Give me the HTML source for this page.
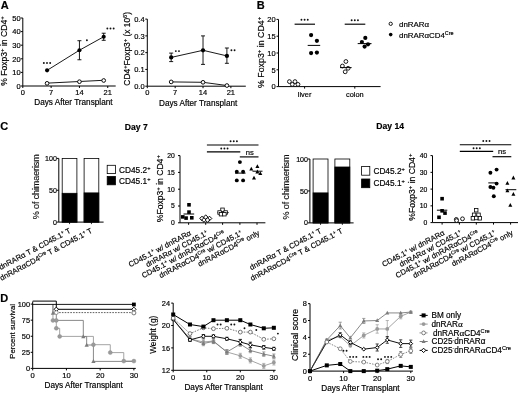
<!DOCTYPE html><html><head><meta charset="utf-8"><style>html,body{margin:0;padding:0;background:#fff;}svg{display:block;will-change:transform;}</style></head><body><svg width="520" height="393" viewBox="0 0 520 393" font-family="Liberation Sans"><style>text{stroke:#000;stroke-width:0.18px;}</style><rect width="520" height="393" fill="#fff"/><text x="0.70" y="8.90" font-size="11.0" text-anchor="start" fill="#000" font-weight="bold">A</text>
<line x1="22.80" y1="18.00" x2="22.80" y2="86.00" stroke="#000" stroke-width="1.0"/>
<line x1="20.80" y1="86.00" x2="22.80" y2="86.00" stroke="#000" stroke-width="1.0"/>
<text x="20.60" y="88.70" font-size="7.5" text-anchor="end" fill="#000">0</text>
<line x1="20.80" y1="72.40" x2="22.80" y2="72.40" stroke="#000" stroke-width="1.0"/>
<text x="20.60" y="75.10" font-size="7.5" text-anchor="end" fill="#000">10</text>
<line x1="20.80" y1="58.80" x2="22.80" y2="58.80" stroke="#000" stroke-width="1.0"/>
<text x="20.60" y="61.50" font-size="7.5" text-anchor="end" fill="#000">20</text>
<line x1="20.80" y1="45.20" x2="22.80" y2="45.20" stroke="#000" stroke-width="1.0"/>
<text x="20.60" y="47.90" font-size="7.5" text-anchor="end" fill="#000">30</text>
<line x1="20.80" y1="31.60" x2="22.80" y2="31.60" stroke="#000" stroke-width="1.0"/>
<text x="20.60" y="34.30" font-size="7.5" text-anchor="end" fill="#000">40</text>
<line x1="20.80" y1="18.00" x2="22.80" y2="18.00" stroke="#000" stroke-width="1.0"/>
<text x="20.60" y="20.70" font-size="7.5" text-anchor="end" fill="#000">50</text>
<line x1="22.80" y1="86.00" x2="115.70" y2="86.00" stroke="#000" stroke-width="1.0"/>
<line x1="22.80" y1="86.00" x2="22.80" y2="88.00" stroke="#000" stroke-width="1.0"/>
<text x="22.80" y="94.70" font-size="7.5" text-anchor="middle" fill="#000">0</text>
<line x1="51.11" y1="86.00" x2="51.11" y2="88.00" stroke="#000" stroke-width="1.0"/>
<text x="51.11" y="94.70" font-size="7.5" text-anchor="middle" fill="#000">7</text>
<line x1="79.43" y1="86.00" x2="79.43" y2="88.00" stroke="#000" stroke-width="1.0"/>
<text x="79.43" y="94.70" font-size="7.5" text-anchor="middle" fill="#000">14</text>
<line x1="107.74" y1="86.00" x2="107.74" y2="88.00" stroke="#000" stroke-width="1.0"/>
<text x="107.74" y="94.70" font-size="7.5" text-anchor="middle" fill="#000">21</text>
<text transform="translate(7.10,51.10) rotate(-90)" font-size="8.6" text-anchor="middle" fill="#000"><tspan font-size="8.6">% Foxp3</tspan><tspan dy="-3.01" font-size="5.85">+</tspan><tspan dy="3.01" font-size="8.6"> in CD4</tspan><tspan dy="-3.01" font-size="5.85">+</tspan></text>
<text x="73.40" y="105.20" font-size="8.2" text-anchor="middle" fill="#000">Days After Transplant</text>
<polyline points="47.07,83.14 79.43,81.51 103.70,80.29" fill="none" stroke="#000" stroke-width="0.9"/>
<circle cx="47.07" cy="83.34" r="1.85" fill="#fff" stroke="#000" stroke-width="0.95"/>
<circle cx="79.43" cy="81.71" r="1.85" fill="#fff" stroke="#000" stroke-width="0.95"/>
<circle cx="103.70" cy="80.49" r="1.85" fill="#fff" stroke="#000" stroke-width="0.95"/>
<polyline points="47.07,70.36 79.43,50.23 103.70,36.77" fill="none" stroke="#000" stroke-width="0.9"/>
<line x1="79.43" y1="40.71" x2="79.43" y2="59.75" stroke="#000" stroke-width="0.9"/>
<line x1="77.43" y1="40.71" x2="81.43" y2="40.71" stroke="#000" stroke-width="0.9"/>
<line x1="77.43" y1="59.75" x2="81.43" y2="59.75" stroke="#000" stroke-width="0.9"/>
<line x1="103.70" y1="33.23" x2="103.70" y2="40.30" stroke="#000" stroke-width="0.9"/>
<line x1="101.70" y1="33.23" x2="105.70" y2="33.23" stroke="#000" stroke-width="0.9"/>
<line x1="101.70" y1="40.30" x2="105.70" y2="40.30" stroke="#000" stroke-width="0.9"/>
<circle cx="47.07" cy="70.36" r="2.05" fill="#000"/>
<circle cx="79.43" cy="50.23" r="2.05" fill="#000"/>
<circle cx="103.70" cy="36.77" r="2.05" fill="#000"/>
<circle cx="43.85" cy="63.00" r="0.95" fill="#111"/>
<circle cx="47.00" cy="63.00" r="0.95" fill="#111"/>
<circle cx="50.15" cy="63.00" r="0.95" fill="#111"/>
<circle cx="86.90" cy="40.30" r="0.95" fill="#111"/>
<circle cx="107.35" cy="28.50" r="0.95" fill="#111"/>
<circle cx="110.50" cy="28.50" r="0.95" fill="#111"/>
<circle cx="113.65" cy="28.50" r="0.95" fill="#111"/>
<line x1="147.30" y1="19.10" x2="147.30" y2="86.20" stroke="#000" stroke-width="1.0"/>
<line x1="145.30" y1="86.20" x2="147.30" y2="86.20" stroke="#000" stroke-width="1.0"/>
<text x="144.60" y="88.90" font-size="7.5" text-anchor="end" fill="#000">0.0</text>
<line x1="145.30" y1="69.42" x2="147.30" y2="69.42" stroke="#000" stroke-width="1.0"/>
<text x="144.60" y="72.12" font-size="7.5" text-anchor="end" fill="#000">0.1</text>
<line x1="145.30" y1="52.65" x2="147.30" y2="52.65" stroke="#000" stroke-width="1.0"/>
<text x="144.60" y="55.35" font-size="7.5" text-anchor="end" fill="#000">0.2</text>
<line x1="145.30" y1="35.88" x2="147.30" y2="35.88" stroke="#000" stroke-width="1.0"/>
<text x="144.60" y="38.58" font-size="7.5" text-anchor="end" fill="#000">0.3</text>
<line x1="145.30" y1="19.10" x2="147.30" y2="19.10" stroke="#000" stroke-width="1.0"/>
<text x="144.60" y="21.80" font-size="7.5" text-anchor="end" fill="#000">0.4</text>
<line x1="147.30" y1="86.20" x2="245.80" y2="86.20" stroke="#000" stroke-width="1.0"/>
<line x1="147.30" y1="86.20" x2="147.30" y2="88.20" stroke="#000" stroke-width="1.0"/>
<text x="147.30" y="94.90" font-size="7.5" text-anchor="middle" fill="#000">0</text>
<line x1="175.16" y1="86.20" x2="175.16" y2="88.20" stroke="#000" stroke-width="1.0"/>
<text x="175.16" y="94.90" font-size="7.5" text-anchor="middle" fill="#000">7</text>
<line x1="203.02" y1="86.20" x2="203.02" y2="88.20" stroke="#000" stroke-width="1.0"/>
<text x="203.02" y="94.90" font-size="7.5" text-anchor="middle" fill="#000">14</text>
<line x1="230.88" y1="86.20" x2="230.88" y2="88.20" stroke="#000" stroke-width="1.0"/>
<text x="230.88" y="94.90" font-size="7.5" text-anchor="middle" fill="#000">21</text>
<text transform="translate(130.40,48.80) rotate(-90)" font-size="8.4" text-anchor="middle" fill="#000"><tspan font-size="8.4">CD4</tspan><tspan dy="-2.94" font-size="5.71">+</tspan><tspan dy="2.94" font-size="8.4">Foxp3</tspan><tspan dy="-2.94" font-size="5.71">+</tspan><tspan dy="2.94" font-size="8.4"> (x 10</tspan><tspan dy="-2.94" font-size="5.71">6</tspan><tspan dy="2.94" font-size="8.4">)</tspan></text>
<text x="198.20" y="105.60" font-size="8.2" text-anchor="middle" fill="#000">Days After Transplant</text>
<polyline points="171.18,81.91 203.02,82.31 226.90,85.53" fill="none" stroke="#000" stroke-width="0.9"/>
<circle cx="171.18" cy="81.91" r="1.85" fill="#fff" stroke="#000" stroke-width="0.95"/>
<circle cx="203.02" cy="82.31" r="1.85" fill="#fff" stroke="#000" stroke-width="0.95"/>
<circle cx="226.90" cy="85.53" r="1.85" fill="#fff" stroke="#000" stroke-width="0.95"/>
<polyline points="171.18,57.41 203.02,50.30 226.90,55.90" fill="none" stroke="#000" stroke-width="0.9"/>
<line x1="171.18" y1="53.10" x2="171.18" y2="61.60" stroke="#000" stroke-width="0.9"/>
<line x1="169.18" y1="53.10" x2="173.18" y2="53.10" stroke="#000" stroke-width="0.9"/>
<line x1="169.18" y1="61.60" x2="173.18" y2="61.60" stroke="#000" stroke-width="0.9"/>
<line x1="203.02" y1="35.90" x2="203.02" y2="64.40" stroke="#000" stroke-width="0.9"/>
<line x1="201.02" y1="35.90" x2="205.02" y2="35.90" stroke="#000" stroke-width="0.9"/>
<line x1="201.02" y1="64.40" x2="205.02" y2="64.40" stroke="#000" stroke-width="0.9"/>
<line x1="226.90" y1="48.00" x2="226.90" y2="63.30" stroke="#000" stroke-width="0.9"/>
<line x1="224.90" y1="48.00" x2="228.90" y2="48.00" stroke="#000" stroke-width="0.9"/>
<line x1="224.90" y1="63.30" x2="228.90" y2="63.30" stroke="#000" stroke-width="0.9"/>
<circle cx="171.18" cy="57.41" r="2.15" fill="#000"/>
<circle cx="203.02" cy="50.30" r="2.15" fill="#000"/>
<circle cx="226.90" cy="55.90" r="2.15" fill="#000"/>
<circle cx="175.83" cy="51.10" r="0.95" fill="#111"/>
<circle cx="178.98" cy="51.10" r="0.95" fill="#111"/>
<circle cx="231.43" cy="50.20" r="0.95" fill="#111"/>
<circle cx="234.58" cy="50.20" r="0.95" fill="#111"/>
<text x="256.80" y="8.90" font-size="11.0" text-anchor="start" fill="#000" font-weight="bold">B</text>
<line x1="278.50" y1="19.40" x2="278.50" y2="86.60" stroke="#000" stroke-width="1.0"/>
<line x1="276.50" y1="86.60" x2="278.50" y2="86.60" stroke="#000" stroke-width="1.0"/>
<text x="275.60" y="89.30" font-size="7.5" text-anchor="end" fill="#000">0</text>
<line x1="276.50" y1="69.80" x2="278.50" y2="69.80" stroke="#000" stroke-width="1.0"/>
<text x="275.60" y="72.50" font-size="7.5" text-anchor="end" fill="#000">5</text>
<line x1="276.50" y1="53.00" x2="278.50" y2="53.00" stroke="#000" stroke-width="1.0"/>
<text x="275.60" y="55.70" font-size="7.5" text-anchor="end" fill="#000">10</text>
<line x1="276.50" y1="36.20" x2="278.50" y2="36.20" stroke="#000" stroke-width="1.0"/>
<text x="275.60" y="38.90" font-size="7.5" text-anchor="end" fill="#000">15</text>
<line x1="276.50" y1="19.40" x2="278.50" y2="19.40" stroke="#000" stroke-width="1.0"/>
<text x="275.60" y="22.10" font-size="7.5" text-anchor="end" fill="#000">20</text>
<line x1="278.50" y1="86.60" x2="380.60" y2="86.60" stroke="#000" stroke-width="1.0"/>
<line x1="304.60" y1="86.60" x2="304.60" y2="88.60" stroke="#000" stroke-width="1.0"/>
<text x="304.60" y="97.10" font-size="7.38" text-anchor="middle" fill="#000">liver</text>
<line x1="354.80" y1="86.60" x2="354.80" y2="88.60" stroke="#000" stroke-width="1.0"/>
<text x="354.80" y="97.10" font-size="7.38" text-anchor="middle" fill="#000">colon</text>
<text transform="translate(263.60,52.40) rotate(-90)" font-size="8.8" text-anchor="middle" fill="#000"><tspan font-size="8.8">% Foxp3</tspan><tspan dy="-3.08" font-size="5.98">+</tspan><tspan dy="3.08" font-size="8.8"> in CD4</tspan><tspan dy="-3.08" font-size="5.98">+</tspan></text>
<circle cx="289.40" cy="81.60" r="1.9" fill="#fff" stroke="#000" stroke-width="0.9"/>
<circle cx="295.00" cy="81.60" r="1.9" fill="#fff" stroke="#000" stroke-width="0.9"/>
<circle cx="292.30" cy="84.40" r="1.9" fill="#fff" stroke="#000" stroke-width="0.9"/>
<circle cx="298.00" cy="84.40" r="1.9" fill="#fff" stroke="#000" stroke-width="0.9"/>
<circle cx="311.10" cy="35.10" r="2.1" fill="#000"/>
<circle cx="316.90" cy="40.80" r="2.1" fill="#000"/>
<circle cx="311.10" cy="53.10" r="2.1" fill="#000"/>
<circle cx="316.90" cy="52.60" r="2.1" fill="#000"/>
<line x1="307.70" y1="45.40" x2="320.20" y2="45.40" stroke="#000" stroke-width="1.0"/>
<line x1="294.60" y1="24.20" x2="315.00" y2="24.20" stroke="#000" stroke-width="1.15"/>
<circle cx="301.45" cy="19.70" r="0.95" fill="#111"/>
<circle cx="304.60" cy="19.70" r="0.95" fill="#111"/>
<circle cx="307.75" cy="19.70" r="0.95" fill="#111"/>
<circle cx="345.90" cy="61.50" r="1.9" fill="#fff" stroke="#000" stroke-width="0.9"/>
<circle cx="342.40" cy="66.00" r="1.9" fill="#fff" stroke="#000" stroke-width="0.9"/>
<circle cx="348.10" cy="68.30" r="1.9" fill="#fff" stroke="#000" stroke-width="0.9"/>
<circle cx="345.20" cy="71.80" r="1.9" fill="#fff" stroke="#000" stroke-width="0.9"/>
<line x1="340.00" y1="67.60" x2="351.60" y2="67.60" stroke="#000" stroke-width="1.0"/>
<circle cx="365.30" cy="37.90" r="2.1" fill="#000"/>
<circle cx="361.90" cy="42.00" r="2.1" fill="#000"/>
<circle cx="368.00" cy="44.30" r="2.1" fill="#000"/>
<circle cx="364.60" cy="46.60" r="2.1" fill="#000"/>
<line x1="357.70" y1="43.60" x2="371.50" y2="43.60" stroke="#000" stroke-width="1.0"/>
<line x1="344.70" y1="24.20" x2="365.30" y2="24.20" stroke="#000" stroke-width="1.15"/>
<circle cx="351.65" cy="20.30" r="0.95" fill="#111"/>
<circle cx="354.80" cy="20.30" r="0.95" fill="#111"/>
<circle cx="357.95" cy="20.30" r="0.95" fill="#111"/>
<circle cx="390.70" cy="23.80" r="1.65" fill="#fff" stroke="#000" stroke-width="0.9"/>
<circle cx="390.70" cy="34.60" r="1.8" fill="#000"/>
<text x="399.00" y="26.90" font-size="7.9" text-anchor="start" fill="#000">dnRARα</text>
<text x="399.00" y="37.50" font-size="7.9" text-anchor="start" fill="#000"><tspan font-size="7.9">dnRARαCD4</tspan><tspan dy="-2.77" font-size="5.37">Cre</tspan></text>
<text x="0.20" y="130.10" font-size="11.0" text-anchor="start" fill="#000" font-weight="bold">C</text>
<text x="124.80" y="130.00" font-size="8.6" text-anchor="start" fill="#000" font-weight="bold">Day 7</text>
<text x="376.30" y="129.00" font-size="8.6" text-anchor="start" fill="#000" font-weight="bold">Day 14</text>
<line x1="58.80" y1="158.40" x2="58.80" y2="222.10" stroke="#000" stroke-width="1.0"/>
<line x1="56.80" y1="222.10" x2="58.80" y2="222.10" stroke="#000" stroke-width="1.0"/>
<text x="56.90" y="224.66" font-size="7.1" text-anchor="end" fill="#000">0</text>
<line x1="56.80" y1="190.25" x2="58.80" y2="190.25" stroke="#000" stroke-width="1.0"/>
<text x="56.90" y="192.81" font-size="7.1" text-anchor="end" fill="#000">50</text>
<line x1="56.80" y1="158.40" x2="58.80" y2="158.40" stroke="#000" stroke-width="1.0"/>
<text x="56.90" y="160.96" font-size="7.1" text-anchor="end" fill="#000">100</text>
<line x1="58.80" y1="222.10" x2="103.60" y2="222.10" stroke="#000" stroke-width="1.0"/>
<rect x="62.20" y="158.40" width="14.70" height="63.70" fill="#fff" stroke="#000" stroke-width="0.8"/>
<rect x="62.20" y="193.30" width="14.70" height="28.80" fill="#000" stroke="#000" stroke-width="0.8"/>
<line x1="69.55" y1="222.10" x2="69.55" y2="224.10" stroke="#000" stroke-width="0.8"/>
<rect x="84.10" y="158.40" width="14.70" height="63.70" fill="#fff" stroke="#000" stroke-width="0.8"/>
<rect x="84.10" y="192.90" width="14.70" height="29.20" fill="#000" stroke="#000" stroke-width="0.8"/>
<line x1="91.45" y1="222.10" x2="91.45" y2="224.10" stroke="#000" stroke-width="0.8"/>
<text transform="translate(39.00,186.80) rotate(-90)" font-size="9.0" text-anchor="middle" fill="#1a1a1a" style="stroke-width:0.15px" textLength="65" lengthAdjust="spacing">% of chimaerism</text>
<rect x="107.20" y="165.30" width="8.2" height="8.3" fill="#fff" stroke="#000" stroke-width="0.8"/>
<rect x="107.20" y="176.50" width="8.2" height="8.3" fill="#000" stroke="#000" stroke-width="0.8"/>
<text x="119.00" y="172.90" font-size="8.3" text-anchor="start" fill="#000"><tspan font-size="8.3">CD45.2</tspan><tspan dy="-2.91" font-size="5.64">+</tspan></text>
<text x="119.00" y="183.90" font-size="8.3" text-anchor="start" fill="#000"><tspan font-size="8.3">CD45.1</tspan><tspan dy="-2.91" font-size="5.64">+</tspan></text>
<text transform="translate(71.40,232.30) rotate(-28)" font-size="7.6" text-anchor="end" fill="#000"><tspan font-size="7.6">dnRARα T &amp; CD45.1</tspan><tspan dy="-2.66" font-size="5.17">+</tspan><tspan dy="2.66" font-size="7.6"> T</tspan></text>
<text transform="translate(92.90,232.20) rotate(-28)" font-size="7.6" text-anchor="end" fill="#000"><tspan font-size="7.6">dnRARαCD4</tspan><tspan dy="-2.66" font-size="5.17">Cre</tspan><tspan dy="2.66" font-size="7.6"> T &amp; CD45.1</tspan><tspan dy="-2.66" font-size="5.17">+</tspan><tspan dy="2.66" font-size="7.6"> T</tspan></text>
<line x1="309.90" y1="159.00" x2="309.90" y2="222.90" stroke="#000" stroke-width="1.0"/>
<line x1="307.90" y1="222.90" x2="309.90" y2="222.90" stroke="#000" stroke-width="1.0"/>
<text x="308.00" y="225.46" font-size="7.1" text-anchor="end" fill="#000">0</text>
<line x1="307.90" y1="190.95" x2="309.90" y2="190.95" stroke="#000" stroke-width="1.0"/>
<text x="308.00" y="193.51" font-size="7.1" text-anchor="end" fill="#000">50</text>
<line x1="307.90" y1="159.00" x2="309.90" y2="159.00" stroke="#000" stroke-width="1.0"/>
<text x="308.00" y="161.56" font-size="7.1" text-anchor="end" fill="#000">100</text>
<line x1="309.90" y1="222.90" x2="353.60" y2="222.90" stroke="#000" stroke-width="1.0"/>
<rect x="313.10" y="159.00" width="14.90" height="63.90" fill="#fff" stroke="#000" stroke-width="0.8"/>
<rect x="313.10" y="192.90" width="14.90" height="30.00" fill="#000" stroke="#000" stroke-width="0.8"/>
<line x1="320.55" y1="222.90" x2="320.55" y2="224.90" stroke="#000" stroke-width="0.8"/>
<rect x="334.90" y="159.00" width="14.90" height="63.90" fill="#fff" stroke="#000" stroke-width="0.8"/>
<rect x="334.90" y="167.00" width="14.90" height="55.90" fill="#000" stroke="#000" stroke-width="0.8"/>
<line x1="342.35" y1="222.90" x2="342.35" y2="224.90" stroke="#000" stroke-width="0.8"/>
<text transform="translate(289.40,187.00) rotate(-90)" font-size="9.0" text-anchor="middle" fill="#1a1a1a" style="stroke-width:0.15px" textLength="65" lengthAdjust="spacing">% of chimaerism</text>
<rect x="361.60" y="166.50" width="8.2" height="8.7" fill="#fff" stroke="#000" stroke-width="0.8"/>
<rect x="361.60" y="179.00" width="8.2" height="8.7" fill="#000" stroke="#000" stroke-width="0.8"/>
<text x="373.40" y="174.10" font-size="8.3" text-anchor="start" fill="#000"><tspan font-size="8.3">CD45.2</tspan><tspan dy="-2.91" font-size="5.64">+</tspan></text>
<text x="373.40" y="186.40" font-size="8.3" text-anchor="start" fill="#000"><tspan font-size="8.3">CD45.1</tspan><tspan dy="-2.91" font-size="5.64">+</tspan></text>
<text transform="translate(322.00,232.60) rotate(-28)" font-size="7.6" text-anchor="end" fill="#000"><tspan font-size="7.6">dnRARα T &amp; CD45.1</tspan><tspan dy="-2.66" font-size="5.17">+</tspan><tspan dy="2.66" font-size="7.6"> T</tspan></text>
<text transform="translate(343.40,232.50) rotate(-28)" font-size="7.6" text-anchor="end" fill="#000"><tspan font-size="7.6">dnRARαCD4</tspan><tspan dy="-2.66" font-size="5.17">Cre</tspan><tspan dy="2.66" font-size="7.6"> T &amp; CD45.1</tspan><tspan dy="-2.66" font-size="5.17">+</tspan><tspan dy="2.66" font-size="7.6"> T</tspan></text>
<line x1="180.00" y1="155.60" x2="180.00" y2="222.80" stroke="#000" stroke-width="1.0"/>
<line x1="178.00" y1="222.80" x2="180.00" y2="222.80" stroke="#000" stroke-width="1.0"/>
<text x="174.70" y="225.25" font-size="6.8" text-anchor="end" fill="#000">0</text>
<line x1="178.00" y1="206.00" x2="180.00" y2="206.00" stroke="#000" stroke-width="1.0"/>
<text x="174.70" y="208.45" font-size="6.8" text-anchor="end" fill="#000">5</text>
<line x1="178.00" y1="189.20" x2="180.00" y2="189.20" stroke="#000" stroke-width="1.0"/>
<text x="174.70" y="191.65" font-size="6.8" text-anchor="end" fill="#000">10</text>
<line x1="178.00" y1="172.40" x2="180.00" y2="172.40" stroke="#000" stroke-width="1.0"/>
<text x="174.70" y="174.85" font-size="6.8" text-anchor="end" fill="#000">15</text>
<line x1="178.00" y1="155.60" x2="180.00" y2="155.60" stroke="#000" stroke-width="1.0"/>
<text x="174.70" y="158.05" font-size="6.8" text-anchor="end" fill="#000">20</text>
<line x1="180.00" y1="222.80" x2="265.40" y2="222.80" stroke="#000" stroke-width="1.0"/>
<line x1="188.60" y1="222.80" x2="188.60" y2="224.80" stroke="#000" stroke-width="1.0"/>
<line x1="205.70" y1="222.80" x2="205.70" y2="224.80" stroke="#000" stroke-width="1.0"/>
<line x1="222.60" y1="222.80" x2="222.60" y2="224.80" stroke="#000" stroke-width="1.0"/>
<line x1="239.90" y1="222.80" x2="239.90" y2="224.80" stroke="#000" stroke-width="1.0"/>
<line x1="257.00" y1="222.80" x2="257.00" y2="224.80" stroke="#000" stroke-width="1.0"/>
<text transform="translate(162.90,188.70) rotate(-90)" font-size="8.6" text-anchor="middle" fill="#000"><tspan font-size="8.6">%Foxp3</tspan><tspan dy="-3.01" font-size="5.85">+</tspan><tspan dy="3.01" font-size="8.6"> in CD4</tspan><tspan dy="-3.01" font-size="5.85">+</tspan></text>
<text transform="translate(191.60,234.70) rotate(-28)" font-size="7.6" text-anchor="end" fill="#000"><tspan font-size="7.6">CD45.1</tspan><tspan dy="-2.66" font-size="5.17">+</tspan><tspan dy="2.66" font-size="7.6"> w/ dnRARα</tspan></text>
<text transform="translate(208.70,234.70) rotate(-28)" font-size="7.6" text-anchor="end" fill="#000"><tspan font-size="7.6">dnRARα w/ CD45.1</tspan><tspan dy="-2.66" font-size="5.17">+</tspan></text>
<text transform="translate(225.60,234.70) rotate(-28)" font-size="7.6" text-anchor="end" fill="#000"><tspan font-size="7.6">CD45.1</tspan><tspan dy="-2.66" font-size="5.17">+</tspan><tspan dy="2.66" font-size="7.6"> w/ dnRARαCD4</tspan><tspan dy="-2.66" font-size="5.17">Cre</tspan></text>
<text transform="translate(242.90,234.70) rotate(-28)" font-size="7.6" text-anchor="end" fill="#000"><tspan font-size="7.6">dnRARαCD4</tspan><tspan dy="-2.66" font-size="5.17">Cre</tspan><tspan dy="2.66" font-size="7.6"> w/ CD45.1</tspan><tspan dy="-2.66" font-size="5.17">+</tspan></text>
<text transform="translate(260.00,234.70) rotate(-28)" font-size="7.6" text-anchor="end" fill="#000"><tspan font-size="7.6">dnRARαCD4</tspan><tspan dy="-2.66" font-size="5.17">Cre</tspan><tspan dy="2.66" font-size="7.6"> only</tspan></text>
<line x1="183.50" y1="214.00" x2="194.20" y2="214.00" stroke="#000" stroke-width="1.0"/>
<rect x="187.20" y="203.00" width="3.60" height="3.60" fill="#000"/>
<rect x="187.20" y="210.30" width="3.60" height="3.60" fill="#000"/>
<rect x="181.00" y="215.10" width="3.60" height="3.60" fill="#000"/>
<rect x="184.30" y="216.30" width="3.60" height="3.60" fill="#000"/>
<rect x="190.00" y="216.00" width="3.60" height="3.60" fill="#000"/>
<line x1="200.50" y1="218.60" x2="211.00" y2="218.60" stroke="#000" stroke-width="1.0"/>
<polygon points="202.00,216.20 204.30,218.50 202.00,220.80 199.70,218.50" fill="#fff" stroke="#000" stroke-width="1.0"/>
<polygon points="205.70,214.90 208.00,217.20 205.70,219.50 203.40,217.20" fill="#fff" stroke="#000" stroke-width="1.0"/>
<polygon points="209.50,216.20 211.80,218.50 209.50,220.80 207.20,218.50" fill="#fff" stroke="#000" stroke-width="1.0"/>
<polygon points="204.00,217.70 206.30,220.00 204.00,222.30 201.70,220.00" fill="#fff" stroke="#000" stroke-width="1.0"/>
<polygon points="207.50,217.70 209.80,220.00 207.50,222.30 205.20,220.00" fill="#fff" stroke="#000" stroke-width="1.0"/>
<line x1="217.60" y1="212.60" x2="228.60" y2="212.60" stroke="#000" stroke-width="1.0"/>
<rect x="220.75" y="208.05" width="3.50" height="3.50" fill="#fff" stroke="#000" stroke-width="0.8"/>
<rect x="217.85" y="210.75" width="3.50" height="3.50" fill="#fff" stroke="#000" stroke-width="0.8"/>
<rect x="223.85" y="210.75" width="3.50" height="3.50" fill="#fff" stroke="#000" stroke-width="0.8"/>
<rect x="219.25" y="212.45" width="3.50" height="3.50" fill="#fff" stroke="#000" stroke-width="0.8"/>
<rect x="222.65" y="212.45" width="3.50" height="3.50" fill="#fff" stroke="#000" stroke-width="0.8"/>
<line x1="235.00" y1="173.10" x2="245.60" y2="173.10" stroke="#000" stroke-width="1.0"/>
<circle cx="239.90" cy="162.10" r="1.95" fill="#000"/>
<circle cx="236.80" cy="171.80" r="1.95" fill="#000"/>
<circle cx="243.10" cy="171.80" r="1.95" fill="#000"/>
<circle cx="236.80" cy="180.40" r="1.95" fill="#000"/>
<circle cx="243.10" cy="180.40" r="1.95" fill="#000"/>
<line x1="252.50" y1="171.20" x2="262.50" y2="171.20" stroke="#000" stroke-width="1.0"/>
<polygon points="257.40,164.20 259.40,168.00 255.40,168.00" fill="#000"/>
<polygon points="251.30,166.70 253.30,170.50 249.30,170.50" fill="#000"/>
<polygon points="257.40,169.60 259.40,173.40 255.40,173.40" fill="#000"/>
<polygon points="260.30,171.30 262.30,175.10 258.30,175.10" fill="#000"/>
<polygon points="254.00,175.70 256.00,179.50 252.00,179.50" fill="#000"/>
<line x1="206.90" y1="145.00" x2="258.50" y2="145.00" stroke="#000" stroke-width="1.15"/>
<circle cx="230.60" cy="141.30" r="0.95" fill="#111"/>
<circle cx="233.75" cy="141.30" r="0.95" fill="#111"/>
<circle cx="236.90" cy="141.30" r="0.95" fill="#111"/>
<line x1="206.90" y1="151.90" x2="240.30" y2="151.90" stroke="#000" stroke-width="1.15"/>
<circle cx="221.25" cy="148.50" r="0.95" fill="#111"/>
<circle cx="224.40" cy="148.50" r="0.95" fill="#111"/>
<circle cx="227.55" cy="148.50" r="0.95" fill="#111"/>
<line x1="239.80" y1="156.90" x2="258.50" y2="156.90" stroke="#000" stroke-width="1.15"/>
<text x="249.75" y="154.80" font-size="7.6" text-anchor="middle" fill="#000">ns</text>
<line x1="432.50" y1="155.60" x2="432.50" y2="222.60" stroke="#000" stroke-width="1.0"/>
<line x1="430.50" y1="222.60" x2="432.50" y2="222.60" stroke="#000" stroke-width="1.0"/>
<text x="427.20" y="225.05" font-size="6.8" text-anchor="end" fill="#000">0</text>
<line x1="430.50" y1="205.85" x2="432.50" y2="205.85" stroke="#000" stroke-width="1.0"/>
<text x="427.20" y="208.30" font-size="6.8" text-anchor="end" fill="#000">10</text>
<line x1="430.50" y1="189.10" x2="432.50" y2="189.10" stroke="#000" stroke-width="1.0"/>
<text x="427.20" y="191.55" font-size="6.8" text-anchor="end" fill="#000">20</text>
<line x1="430.50" y1="172.35" x2="432.50" y2="172.35" stroke="#000" stroke-width="1.0"/>
<text x="427.20" y="174.80" font-size="6.8" text-anchor="end" fill="#000">30</text>
<line x1="430.50" y1="155.60" x2="432.50" y2="155.60" stroke="#000" stroke-width="1.0"/>
<text x="427.20" y="158.05" font-size="6.8" text-anchor="end" fill="#000">40</text>
<line x1="432.50" y1="222.60" x2="518.00" y2="222.60" stroke="#000" stroke-width="1.0"/>
<line x1="442.10" y1="222.60" x2="442.10" y2="224.60" stroke="#000" stroke-width="1.0"/>
<line x1="459.40" y1="222.60" x2="459.40" y2="224.60" stroke="#000" stroke-width="1.0"/>
<line x1="476.30" y1="222.60" x2="476.30" y2="224.60" stroke="#000" stroke-width="1.0"/>
<line x1="493.50" y1="222.60" x2="493.50" y2="224.60" stroke="#000" stroke-width="1.0"/>
<line x1="510.60" y1="222.60" x2="510.60" y2="224.60" stroke="#000" stroke-width="1.0"/>
<text transform="translate(415.30,187.20) rotate(-90)" font-size="8.6" text-anchor="middle" fill="#000"><tspan font-size="8.6">%Foxp3</tspan><tspan dy="-3.01" font-size="5.85">+</tspan><tspan dy="3.01" font-size="8.6"> in CD4</tspan><tspan dy="-3.01" font-size="5.85">+</tspan></text>
<text transform="translate(445.10,234.50) rotate(-28)" font-size="7.6" text-anchor="end" fill="#000"><tspan font-size="7.6">CD45.1</tspan><tspan dy="-2.66" font-size="5.17">+</tspan><tspan dy="2.66" font-size="7.6"> w/ dnRARα</tspan></text>
<text transform="translate(462.40,234.50) rotate(-28)" font-size="7.6" text-anchor="end" fill="#000"><tspan font-size="7.6">dnRARα w/ CD45.1</tspan><tspan dy="-2.66" font-size="5.17">+</tspan></text>
<text transform="translate(479.30,234.50) rotate(-28)" font-size="7.6" text-anchor="end" fill="#000"><tspan font-size="7.6">CD45.1</tspan><tspan dy="-2.66" font-size="5.17">+</tspan><tspan dy="2.66" font-size="7.6"> w/ dnRARαCD4</tspan><tspan dy="-2.66" font-size="5.17">Cre</tspan></text>
<text transform="translate(496.50,234.50) rotate(-28)" font-size="7.6" text-anchor="end" fill="#000"><tspan font-size="7.6">dnRARαCD4</tspan><tspan dy="-2.66" font-size="5.17">Cre</tspan><tspan dy="2.66" font-size="7.6"> w/ CD45.1</tspan><tspan dy="-2.66" font-size="5.17">+</tspan></text>
<text transform="translate(513.60,234.50) rotate(-28)" font-size="7.6" text-anchor="end" fill="#000"><tspan font-size="7.6">dnRARαCD4</tspan><tspan dy="-2.66" font-size="5.17">Cre</tspan><tspan dy="2.66" font-size="7.6"> only</tspan></text>
<line x1="436.90" y1="210.20" x2="447.30" y2="210.20" stroke="#000" stroke-width="1.0"/>
<rect x="440.30" y="196.90" width="3.60" height="3.60" fill="#000"/>
<rect x="440.30" y="209.00" width="3.60" height="3.60" fill="#000"/>
<rect x="443.20" y="211.30" width="3.60" height="3.60" fill="#000"/>
<rect x="437.20" y="215.50" width="3.60" height="3.60" fill="#000"/>
<circle cx="456.30" cy="219.40" r="1.9" fill="#fff" stroke="#000" stroke-width="0.9"/>
<circle cx="456.60" cy="220.60" r="1.9" fill="#fff" stroke="#000" stroke-width="0.9"/>
<circle cx="462.50" cy="218.80" r="1.9" fill="#fff" stroke="#000" stroke-width="0.9"/>
<rect x="474.45" y="208.45" width="3.50" height="3.50" fill="#fff" stroke="#000" stroke-width="0.8"/>
<rect x="472.35" y="213.05" width="3.50" height="3.50" fill="#fff" stroke="#000" stroke-width="0.8"/>
<rect x="476.75" y="213.05" width="3.50" height="3.50" fill="#fff" stroke="#000" stroke-width="0.8"/>
<rect x="471.15" y="216.55" width="3.50" height="3.50" fill="#fff" stroke="#000" stroke-width="0.8"/>
<rect x="478.05" y="216.55" width="3.50" height="3.50" fill="#fff" stroke="#000" stroke-width="0.8"/>
<rect x="474.45" y="216.25" width="3.50" height="3.50" fill="#fff" stroke="#000" stroke-width="0.8"/>
<line x1="488.30" y1="182.90" x2="497.80" y2="182.90" stroke="#000" stroke-width="1.0"/>
<circle cx="490.40" cy="172.70" r="1.95" fill="#000"/>
<circle cx="496.60" cy="169.60" r="1.95" fill="#000"/>
<circle cx="496.60" cy="183.60" r="1.95" fill="#000"/>
<circle cx="490.40" cy="187.00" r="1.95" fill="#000"/>
<circle cx="493.40" cy="187.80" r="1.95" fill="#000"/>
<circle cx="493.80" cy="196.30" r="1.95" fill="#000"/>
<line x1="505.50" y1="189.70" x2="516.30" y2="189.70" stroke="#000" stroke-width="1.0"/>
<polygon points="513.40,175.60 515.40,179.40 511.40,179.40" fill="#000"/>
<polygon points="507.40,181.00 509.40,184.80 505.40,184.80" fill="#000"/>
<polygon points="507.40,188.40 509.40,192.20 505.40,192.20" fill="#000"/>
<polygon points="513.40,191.90 515.40,195.70 511.40,195.70" fill="#000"/>
<polygon points="510.30,203.00 512.30,206.80 508.30,206.80" fill="#000"/>
<line x1="459.80" y1="144.70" x2="511.30" y2="144.70" stroke="#000" stroke-width="1.15"/>
<circle cx="483.25" cy="141.00" r="0.95" fill="#111"/>
<circle cx="486.40" cy="141.00" r="0.95" fill="#111"/>
<circle cx="489.55" cy="141.00" r="0.95" fill="#111"/>
<line x1="459.80" y1="151.40" x2="493.20" y2="151.40" stroke="#000" stroke-width="1.15"/>
<circle cx="473.55" cy="148.30" r="0.95" fill="#111"/>
<circle cx="476.70" cy="148.30" r="0.95" fill="#111"/>
<circle cx="479.85" cy="148.30" r="0.95" fill="#111"/>
<line x1="492.50" y1="156.70" x2="511.30" y2="156.70" stroke="#000" stroke-width="1.15"/>
<text x="502.10" y="154.40" font-size="7.6" text-anchor="middle" fill="#000">ns</text>
<text x="0.20" y="302.40" font-size="11.0" text-anchor="start" fill="#000" font-weight="bold">D</text>
<line x1="32.70" y1="301.50" x2="32.70" y2="368.40" stroke="#000" stroke-width="1.0"/>
<line x1="30.70" y1="368.40" x2="32.70" y2="368.40" stroke="#000" stroke-width="1.0"/>
<text x="30.00" y="371.06" font-size="7.4" text-anchor="end" fill="#000">0</text>
<line x1="30.70" y1="352.32" x2="32.70" y2="352.32" stroke="#000" stroke-width="1.0"/>
<text x="30.00" y="354.99" font-size="7.4" text-anchor="end" fill="#000">25</text>
<line x1="30.70" y1="336.25" x2="32.70" y2="336.25" stroke="#000" stroke-width="1.0"/>
<text x="30.00" y="338.91" font-size="7.4" text-anchor="end" fill="#000">50</text>
<line x1="30.70" y1="320.17" x2="32.70" y2="320.17" stroke="#000" stroke-width="1.0"/>
<text x="30.00" y="322.84" font-size="7.4" text-anchor="end" fill="#000">75</text>
<line x1="30.70" y1="304.10" x2="32.70" y2="304.10" stroke="#000" stroke-width="1.0"/>
<text x="30.00" y="306.76" font-size="7.4" text-anchor="end" fill="#000">100</text>
<line x1="32.70" y1="368.40" x2="135.80" y2="368.40" stroke="#000" stroke-width="1.0"/>
<line x1="32.70" y1="368.40" x2="32.70" y2="370.40" stroke="#000" stroke-width="1.0"/>
<text x="32.70" y="378.40" font-size="7.6" text-anchor="middle" fill="#000">0</text>
<line x1="66.43" y1="368.40" x2="66.43" y2="370.40" stroke="#000" stroke-width="1.0"/>
<text x="66.43" y="378.40" font-size="7.6" text-anchor="middle" fill="#000">10</text>
<line x1="100.16" y1="368.40" x2="100.16" y2="370.40" stroke="#000" stroke-width="1.0"/>
<text x="100.16" y="378.40" font-size="7.6" text-anchor="middle" fill="#000">20</text>
<line x1="133.89" y1="368.40" x2="133.89" y2="370.40" stroke="#000" stroke-width="1.0"/>
<text x="133.89" y="378.40" font-size="7.6" text-anchor="middle" fill="#000">30</text>
<text transform="translate(15.30,331.40) rotate(-90)" font-size="7.7" text-anchor="middle" fill="#000">Percent survival</text>
<text x="83.70" y="388.30" font-size="8.2" text-anchor="middle" fill="#000">Days After Transplant</text>
<polyline points="52.94,304.40 52.94,320.40 56.31,320.40 56.31,328.30 59.68,328.30 59.68,336.40 93.41,336.40 93.41,344.70 110.28,344.70 110.28,352.60 123.77,352.60 123.77,361.10 133.89,361.10" fill="none" stroke="#9a9a9a" stroke-width="0.9"/>
<polyline points="52.94,304.40 52.94,313.00 56.31,313.00 56.31,320.40 83.30,320.40 83.30,336.60 86.67,336.60 86.67,345.00 93.41,345.00 93.41,361.40 133.89,361.40" fill="none" stroke="#7c7c7c" stroke-width="0.9"/>
<circle cx="52.94" cy="320.40" r="2.0" fill="#9a9a9a" stroke="#8a8a8a" stroke-width="0.4"/>
<circle cx="56.31" cy="328.30" r="2.0" fill="#9a9a9a" stroke="#8a8a8a" stroke-width="0.4"/>
<circle cx="59.68" cy="336.40" r="2.0" fill="#9a9a9a" stroke="#8a8a8a" stroke-width="0.4"/>
<circle cx="93.41" cy="344.70" r="2.0" fill="#9a9a9a" stroke="#8a8a8a" stroke-width="0.4"/>
<circle cx="110.28" cy="352.60" r="2.0" fill="#9a9a9a" stroke="#8a8a8a" stroke-width="0.4"/>
<circle cx="123.77" cy="361.10" r="2.0" fill="#9a9a9a" stroke="#8a8a8a" stroke-width="0.4"/>
<circle cx="133.89" cy="361.10" r="2.0" fill="#9a9a9a" stroke="#8a8a8a" stroke-width="0.4"/>
<circle cx="56.31" cy="320.40" r="2.0" fill="#9a9a9a" stroke="#8a8a8a" stroke-width="0.4"/>
<polygon points="52.94,310.69 55.04,314.68 50.84,314.68" fill="#7c7c7c"/>
<polygon points="83.30,334.29 85.40,338.28 81.20,338.28" fill="#7c7c7c"/>
<polygon points="86.67,342.69 88.77,346.68 84.57,346.68" fill="#7c7c7c"/>
<polygon points="93.41,359.09 95.51,363.08 91.31,363.08" fill="#7c7c7c"/>
<polyline points="32.70,304.40 133.89,304.40" fill="none" stroke="#000" stroke-width="0.9"/>
<polyline points="32.70,301.10 56.31,301.10 56.31,309.30 133.89,309.30" fill="none" stroke="#000" stroke-width="1.0"/>
<polyline points="56.31,309.30 56.31,312.60" fill="none" stroke="#000" stroke-width="0.8"/>
<line x1="56.31" y1="312.60" x2="133.89" y2="312.60" stroke="#333" stroke-width="0.8" stroke-dasharray="1.6,1.2"/>
<rect x="131.99" y="302.60" width="3.80" height="3.80" fill="#000"/>
<polygon points="133.89,307.10 136.09,309.30 133.89,311.50 131.69,309.30" fill="#fff" stroke="#000" stroke-width="0.9"/>
<circle cx="133.89" cy="312.90" r="2.0" fill="#fff" stroke="#555" stroke-width="0.8"/>
<polygon points="56.31,307.10 58.51,309.30 56.31,311.50 54.11,309.30" fill="#fff" stroke="#000" stroke-width="1.0"/>
<circle cx="56.31" cy="312.60" r="1.9" fill="#fff" stroke="#777" stroke-width="0.8"/>
<line x1="173.20" y1="303.10" x2="173.20" y2="370.30" stroke="#000" stroke-width="1.0"/>
<line x1="171.20" y1="370.30" x2="173.20" y2="370.30" stroke="#000" stroke-width="1.0"/>
<text x="170.00" y="372.96" font-size="7.4" text-anchor="end" fill="#000">12</text>
<line x1="171.20" y1="347.90" x2="173.20" y2="347.90" stroke="#000" stroke-width="1.0"/>
<text x="170.00" y="350.56" font-size="7.4" text-anchor="end" fill="#000">16</text>
<line x1="171.20" y1="325.50" x2="173.20" y2="325.50" stroke="#000" stroke-width="1.0"/>
<text x="170.00" y="328.16" font-size="7.4" text-anchor="end" fill="#000">20</text>
<line x1="171.20" y1="303.10" x2="173.20" y2="303.10" stroke="#000" stroke-width="1.0"/>
<text x="170.00" y="305.76" font-size="7.4" text-anchor="end" fill="#000">24</text>
<line x1="173.20" y1="370.30" x2="275.60" y2="370.30" stroke="#000" stroke-width="1.0"/>
<line x1="173.20" y1="370.30" x2="173.20" y2="372.30" stroke="#000" stroke-width="1.0"/>
<text x="173.20" y="380.30" font-size="7.6" text-anchor="middle" fill="#000">0</text>
<line x1="206.75" y1="370.30" x2="206.75" y2="372.30" stroke="#000" stroke-width="1.0"/>
<text x="206.75" y="380.30" font-size="7.6" text-anchor="middle" fill="#000">10</text>
<line x1="240.30" y1="370.30" x2="240.30" y2="372.30" stroke="#000" stroke-width="1.0"/>
<text x="240.30" y="380.30" font-size="7.6" text-anchor="middle" fill="#000">20</text>
<line x1="273.85" y1="370.30" x2="273.85" y2="372.30" stroke="#000" stroke-width="1.0"/>
<text x="273.85" y="380.30" font-size="7.6" text-anchor="middle" fill="#000">30</text>
<text transform="translate(156.20,334.80) rotate(-90)" font-size="8.3" text-anchor="middle" fill="#000">Weight (g)</text>
<text x="223.60" y="389.50" font-size="8.2" text-anchor="middle" fill="#000">Days After Transplant</text>
<polyline points="173.20,319.40 189.97,338.80 203.39,342.00 213.46,341.00 226.88,352.00 240.30,355.80 250.37,360.40 263.78,365.90 273.85,362.50" fill="none" stroke="#9a9a9a" stroke-width="0.9"/>
<polyline points="173.20,319.40 189.97,338.80 203.39,343.50 213.46,341.40 226.88,352.00 240.30,344.10 250.37,350.50 263.78,354.10 273.85,356.20" fill="none" stroke="#7c7c7c" stroke-width="0.9"/>
<line x1="189.97" y1="336.30" x2="189.97" y2="341.30" stroke="#9a9a9a" stroke-width="0.7"/>
<line x1="188.38" y1="336.30" x2="191.57" y2="336.30" stroke="#9a9a9a" stroke-width="0.7"/>
<line x1="188.38" y1="341.30" x2="191.57" y2="341.30" stroke="#9a9a9a" stroke-width="0.7"/>
<line x1="203.39" y1="339.50" x2="203.39" y2="344.50" stroke="#9a9a9a" stroke-width="0.7"/>
<line x1="201.79" y1="339.50" x2="204.99" y2="339.50" stroke="#9a9a9a" stroke-width="0.7"/>
<line x1="201.79" y1="344.50" x2="204.99" y2="344.50" stroke="#9a9a9a" stroke-width="0.7"/>
<line x1="213.46" y1="338.50" x2="213.46" y2="343.50" stroke="#9a9a9a" stroke-width="0.7"/>
<line x1="211.86" y1="338.50" x2="215.06" y2="338.50" stroke="#9a9a9a" stroke-width="0.7"/>
<line x1="211.86" y1="343.50" x2="215.06" y2="343.50" stroke="#9a9a9a" stroke-width="0.7"/>
<line x1="226.88" y1="349.50" x2="226.88" y2="354.50" stroke="#9a9a9a" stroke-width="0.7"/>
<line x1="225.28" y1="349.50" x2="228.48" y2="349.50" stroke="#9a9a9a" stroke-width="0.7"/>
<line x1="225.28" y1="354.50" x2="228.48" y2="354.50" stroke="#9a9a9a" stroke-width="0.7"/>
<line x1="240.30" y1="353.30" x2="240.30" y2="358.30" stroke="#9a9a9a" stroke-width="0.7"/>
<line x1="238.70" y1="353.30" x2="241.90" y2="353.30" stroke="#9a9a9a" stroke-width="0.7"/>
<line x1="238.70" y1="358.30" x2="241.90" y2="358.30" stroke="#9a9a9a" stroke-width="0.7"/>
<line x1="250.37" y1="357.90" x2="250.37" y2="362.90" stroke="#9a9a9a" stroke-width="0.7"/>
<line x1="248.77" y1="357.90" x2="251.97" y2="357.90" stroke="#9a9a9a" stroke-width="0.7"/>
<line x1="248.77" y1="362.90" x2="251.97" y2="362.90" stroke="#9a9a9a" stroke-width="0.7"/>
<line x1="263.78" y1="363.40" x2="263.78" y2="368.40" stroke="#9a9a9a" stroke-width="0.7"/>
<line x1="262.18" y1="363.40" x2="265.38" y2="363.40" stroke="#9a9a9a" stroke-width="0.7"/>
<line x1="262.18" y1="368.40" x2="265.38" y2="368.40" stroke="#9a9a9a" stroke-width="0.7"/>
<line x1="273.85" y1="360.00" x2="273.85" y2="365.00" stroke="#9a9a9a" stroke-width="0.7"/>
<line x1="272.25" y1="360.00" x2="275.45" y2="360.00" stroke="#9a9a9a" stroke-width="0.7"/>
<line x1="272.25" y1="365.00" x2="275.45" y2="365.00" stroke="#9a9a9a" stroke-width="0.7"/>
<line x1="189.97" y1="336.60" x2="189.97" y2="341.00" stroke="#7c7c7c" stroke-width="0.7"/>
<line x1="188.38" y1="336.60" x2="191.57" y2="336.60" stroke="#7c7c7c" stroke-width="0.7"/>
<line x1="188.38" y1="341.00" x2="191.57" y2="341.00" stroke="#7c7c7c" stroke-width="0.7"/>
<line x1="203.39" y1="341.30" x2="203.39" y2="345.70" stroke="#7c7c7c" stroke-width="0.7"/>
<line x1="201.79" y1="341.30" x2="204.99" y2="341.30" stroke="#7c7c7c" stroke-width="0.7"/>
<line x1="201.79" y1="345.70" x2="204.99" y2="345.70" stroke="#7c7c7c" stroke-width="0.7"/>
<line x1="213.46" y1="339.20" x2="213.46" y2="343.60" stroke="#7c7c7c" stroke-width="0.7"/>
<line x1="211.86" y1="339.20" x2="215.06" y2="339.20" stroke="#7c7c7c" stroke-width="0.7"/>
<line x1="211.86" y1="343.60" x2="215.06" y2="343.60" stroke="#7c7c7c" stroke-width="0.7"/>
<line x1="226.88" y1="349.80" x2="226.88" y2="354.20" stroke="#7c7c7c" stroke-width="0.7"/>
<line x1="225.28" y1="349.80" x2="228.48" y2="349.80" stroke="#7c7c7c" stroke-width="0.7"/>
<line x1="225.28" y1="354.20" x2="228.48" y2="354.20" stroke="#7c7c7c" stroke-width="0.7"/>
<line x1="240.30" y1="341.90" x2="240.30" y2="346.30" stroke="#7c7c7c" stroke-width="0.7"/>
<line x1="238.70" y1="341.90" x2="241.90" y2="341.90" stroke="#7c7c7c" stroke-width="0.7"/>
<line x1="238.70" y1="346.30" x2="241.90" y2="346.30" stroke="#7c7c7c" stroke-width="0.7"/>
<line x1="250.37" y1="348.30" x2="250.37" y2="352.70" stroke="#7c7c7c" stroke-width="0.7"/>
<line x1="248.77" y1="348.30" x2="251.97" y2="348.30" stroke="#7c7c7c" stroke-width="0.7"/>
<line x1="248.77" y1="352.70" x2="251.97" y2="352.70" stroke="#7c7c7c" stroke-width="0.7"/>
<line x1="263.78" y1="351.90" x2="263.78" y2="356.30" stroke="#7c7c7c" stroke-width="0.7"/>
<line x1="262.18" y1="351.90" x2="265.38" y2="351.90" stroke="#7c7c7c" stroke-width="0.7"/>
<line x1="262.18" y1="356.30" x2="265.38" y2="356.30" stroke="#7c7c7c" stroke-width="0.7"/>
<line x1="273.85" y1="354.00" x2="273.85" y2="358.40" stroke="#7c7c7c" stroke-width="0.7"/>
<line x1="272.25" y1="354.00" x2="275.45" y2="354.00" stroke="#7c7c7c" stroke-width="0.7"/>
<line x1="272.25" y1="358.40" x2="275.45" y2="358.40" stroke="#7c7c7c" stroke-width="0.7"/>
<circle cx="173.20" cy="319.40" r="1.9" fill="#9a9a9a"/>
<circle cx="189.97" cy="338.80" r="1.9" fill="#9a9a9a"/>
<circle cx="203.39" cy="342.00" r="1.9" fill="#9a9a9a"/>
<circle cx="213.46" cy="341.00" r="1.9" fill="#9a9a9a"/>
<circle cx="226.88" cy="352.00" r="1.9" fill="#9a9a9a"/>
<circle cx="240.30" cy="355.80" r="1.9" fill="#9a9a9a"/>
<circle cx="250.37" cy="360.40" r="1.9" fill="#9a9a9a"/>
<circle cx="263.78" cy="365.90" r="1.9" fill="#9a9a9a"/>
<circle cx="273.85" cy="362.50" r="1.9" fill="#9a9a9a"/>
<polygon points="173.20,317.20 175.20,321.00 171.20,321.00" fill="#7c7c7c"/>
<polygon points="189.97,336.60 191.97,340.40 187.97,340.40" fill="#7c7c7c"/>
<polygon points="203.39,341.30 205.39,345.10 201.39,345.10" fill="#7c7c7c"/>
<polygon points="213.46,339.20 215.46,343.00 211.46,343.00" fill="#7c7c7c"/>
<polygon points="226.88,349.80 228.88,353.60 224.88,353.60" fill="#7c7c7c"/>
<polygon points="240.30,341.90 242.30,345.70 238.30,345.70" fill="#7c7c7c"/>
<polygon points="250.37,348.30 252.37,352.10 248.37,352.10" fill="#7c7c7c"/>
<polygon points="263.78,351.90 265.78,355.70 261.78,355.70" fill="#7c7c7c"/>
<polygon points="273.85,354.00 275.85,357.80 271.85,357.80" fill="#7c7c7c"/>
<polyline points="173.20,319.40 189.97,339.90 203.39,336.30 213.46,336.30 226.88,338.80 240.30,342.00 250.37,344.80 263.78,347.30 273.85,348.80" fill="none" stroke="#111" stroke-width="1.0"/>
<line x1="189.97" y1="338.40" x2="189.97" y2="341.40" stroke="#000" stroke-width="0.8"/>
<line x1="188.28" y1="338.40" x2="191.67" y2="338.40" stroke="#000" stroke-width="0.8"/>
<line x1="188.28" y1="341.40" x2="191.67" y2="341.40" stroke="#000" stroke-width="0.8"/>
<line x1="203.39" y1="334.50" x2="203.39" y2="338.10" stroke="#000" stroke-width="0.8"/>
<line x1="201.69" y1="334.50" x2="205.09" y2="334.50" stroke="#000" stroke-width="0.8"/>
<line x1="201.69" y1="338.10" x2="205.09" y2="338.10" stroke="#000" stroke-width="0.8"/>
<line x1="213.46" y1="334.80" x2="213.46" y2="337.80" stroke="#000" stroke-width="0.8"/>
<line x1="211.76" y1="334.80" x2="215.16" y2="334.80" stroke="#000" stroke-width="0.8"/>
<line x1="211.76" y1="337.80" x2="215.16" y2="337.80" stroke="#000" stroke-width="0.8"/>
<line x1="226.88" y1="337.30" x2="226.88" y2="340.30" stroke="#000" stroke-width="0.8"/>
<line x1="225.18" y1="337.30" x2="228.58" y2="337.30" stroke="#000" stroke-width="0.8"/>
<line x1="225.18" y1="340.30" x2="228.58" y2="340.30" stroke="#000" stroke-width="0.8"/>
<line x1="240.30" y1="339.40" x2="240.30" y2="344.60" stroke="#000" stroke-width="0.8"/>
<line x1="238.60" y1="339.40" x2="242.00" y2="339.40" stroke="#000" stroke-width="0.8"/>
<line x1="238.60" y1="344.60" x2="242.00" y2="344.60" stroke="#000" stroke-width="0.8"/>
<line x1="250.37" y1="342.20" x2="250.37" y2="347.40" stroke="#000" stroke-width="0.8"/>
<line x1="248.67" y1="342.20" x2="252.06" y2="342.20" stroke="#000" stroke-width="0.8"/>
<line x1="248.67" y1="347.40" x2="252.06" y2="347.40" stroke="#000" stroke-width="0.8"/>
<line x1="263.78" y1="345.50" x2="263.78" y2="349.10" stroke="#000" stroke-width="0.8"/>
<line x1="262.08" y1="345.50" x2="265.48" y2="345.50" stroke="#000" stroke-width="0.8"/>
<line x1="262.08" y1="349.10" x2="265.48" y2="349.10" stroke="#000" stroke-width="0.8"/>
<line x1="273.85" y1="347.30" x2="273.85" y2="350.30" stroke="#000" stroke-width="0.8"/>
<line x1="272.15" y1="347.30" x2="275.55" y2="347.30" stroke="#000" stroke-width="0.8"/>
<line x1="272.15" y1="350.30" x2="275.55" y2="350.30" stroke="#000" stroke-width="0.8"/>
<polygon points="173.20,317.55 175.05,319.40 173.20,321.25 171.35,319.40" fill="#fff" stroke="#000" stroke-width="1.0"/>
<polygon points="189.97,338.05 191.82,339.90 189.97,341.75 188.12,339.90" fill="#fff" stroke="#000" stroke-width="1.0"/>
<polygon points="203.39,334.45 205.24,336.30 203.39,338.15 201.54,336.30" fill="#fff" stroke="#000" stroke-width="1.0"/>
<polygon points="213.46,334.45 215.31,336.30 213.46,338.15 211.61,336.30" fill="#fff" stroke="#000" stroke-width="1.0"/>
<polygon points="226.88,336.95 228.73,338.80 226.88,340.65 225.03,338.80" fill="#fff" stroke="#000" stroke-width="1.0"/>
<polygon points="240.30,340.15 242.15,342.00 240.30,343.85 238.45,342.00" fill="#fff" stroke="#000" stroke-width="1.0"/>
<polygon points="250.37,342.95 252.22,344.80 250.37,346.65 248.52,344.80" fill="#fff" stroke="#000" stroke-width="1.0"/>
<polygon points="263.78,345.45 265.63,347.30 263.78,349.15 261.93,347.30" fill="#fff" stroke="#000" stroke-width="1.0"/>
<polygon points="273.85,346.95 275.70,348.80 273.85,350.65 272.00,348.80" fill="#fff" stroke="#000" stroke-width="1.0"/>
<polyline points="173.20,318.10 189.97,333.60 203.39,327.80 213.46,328.70 226.88,328.30 240.30,332.10 250.37,332.10 263.78,339.30 273.85,338.80" fill="none" stroke="#555" stroke-width="0.8" stroke-dasharray="1.5,1.3"/>
<circle cx="173.20" cy="318.10" r="1.9" fill="#fff" stroke="#555" stroke-width="0.8"/>
<circle cx="189.97" cy="333.60" r="1.9" fill="#fff" stroke="#555" stroke-width="0.8"/>
<circle cx="203.39" cy="327.80" r="1.9" fill="#fff" stroke="#555" stroke-width="0.8"/>
<circle cx="213.46" cy="328.70" r="1.9" fill="#fff" stroke="#555" stroke-width="0.8"/>
<circle cx="226.88" cy="328.30" r="1.9" fill="#fff" stroke="#555" stroke-width="0.8"/>
<circle cx="240.30" cy="332.10" r="1.9" fill="#fff" stroke="#555" stroke-width="0.8"/>
<circle cx="250.37" cy="332.10" r="1.9" fill="#fff" stroke="#555" stroke-width="0.8"/>
<circle cx="263.78" cy="339.30" r="1.9" fill="#fff" stroke="#555" stroke-width="0.8"/>
<circle cx="273.85" cy="338.80" r="1.9" fill="#fff" stroke="#555" stroke-width="0.8"/>
<polyline points="173.20,314.50 189.97,324.50 203.39,326.60 213.46,320.20 226.88,320.20 240.30,320.20 250.37,324.50 263.78,328.30 273.85,327.80" fill="none" stroke="#000" stroke-width="1.0"/>
<rect x="171.20" y="312.50" width="4.00" height="4.00" fill="#000"/>
<rect x="187.97" y="322.50" width="4.00" height="4.00" fill="#000"/>
<rect x="201.39" y="324.60" width="4.00" height="4.00" fill="#000"/>
<rect x="211.46" y="318.20" width="4.00" height="4.00" fill="#000"/>
<rect x="224.88" y="318.20" width="4.00" height="4.00" fill="#000"/>
<rect x="238.30" y="318.20" width="4.00" height="4.00" fill="#000"/>
<rect x="248.37" y="322.50" width="4.00" height="4.00" fill="#000"/>
<rect x="261.78" y="326.30" width="4.00" height="4.00" fill="#000"/>
<rect x="271.85" y="325.80" width="4.00" height="4.00" fill="#000"/>
<circle cx="217.53" cy="324.50" r="0.95" fill="#111"/>
<circle cx="220.68" cy="324.50" r="0.95" fill="#111"/>
<circle cx="231.23" cy="324.50" r="0.95" fill="#111"/>
<circle cx="234.38" cy="324.50" r="0.95" fill="#111"/>
<circle cx="244.50" cy="328.30" r="0.95" fill="#111"/>
<circle cx="256.30" cy="330.00" r="0.95" fill="#111"/>
<circle cx="277.90" cy="333.60" r="0.95" fill="#111"/>
<line x1="310.00" y1="303.66" x2="310.00" y2="371.10" stroke="#000" stroke-width="1.0"/>
<line x1="308.00" y1="371.10" x2="310.00" y2="371.10" stroke="#000" stroke-width="1.0"/>
<text x="306.90" y="373.76" font-size="7.4" text-anchor="end" fill="#000">0</text>
<line x1="308.00" y1="354.24" x2="310.00" y2="354.24" stroke="#000" stroke-width="1.0"/>
<text x="306.90" y="356.90" font-size="7.4" text-anchor="end" fill="#000">2</text>
<line x1="308.00" y1="337.38" x2="310.00" y2="337.38" stroke="#000" stroke-width="1.0"/>
<text x="306.90" y="340.04" font-size="7.4" text-anchor="end" fill="#000">4</text>
<line x1="308.00" y1="320.52" x2="310.00" y2="320.52" stroke="#000" stroke-width="1.0"/>
<text x="306.90" y="323.18" font-size="7.4" text-anchor="end" fill="#000">6</text>
<line x1="308.00" y1="303.66" x2="310.00" y2="303.66" stroke="#000" stroke-width="1.0"/>
<text x="306.90" y="306.32" font-size="7.4" text-anchor="end" fill="#000">8</text>
<line x1="310.00" y1="371.10" x2="413.00" y2="371.10" stroke="#000" stroke-width="1.0"/>
<line x1="310.00" y1="371.10" x2="310.00" y2="373.10" stroke="#000" stroke-width="1.0"/>
<text x="310.00" y="380.70" font-size="7.6" text-anchor="middle" fill="#000">0</text>
<line x1="343.60" y1="371.10" x2="343.60" y2="373.10" stroke="#000" stroke-width="1.0"/>
<text x="343.60" y="380.70" font-size="7.6" text-anchor="middle" fill="#000">10</text>
<line x1="377.20" y1="371.10" x2="377.20" y2="373.10" stroke="#000" stroke-width="1.0"/>
<text x="377.20" y="380.70" font-size="7.6" text-anchor="middle" fill="#000">20</text>
<line x1="410.80" y1="371.10" x2="410.80" y2="373.10" stroke="#000" stroke-width="1.0"/>
<text x="410.80" y="380.70" font-size="7.6" text-anchor="middle" fill="#000">30</text>
<text transform="translate(297.60,334.90) rotate(-90)" font-size="8.8" text-anchor="middle" fill="#000">Clinical score</text>
<text x="360.50" y="390.60" font-size="8.2" text-anchor="middle" fill="#000">Days After Transplant</text>
<polyline points="310.00,371.10 326.80,339.91 340.24,336.54 350.32,345.81 363.76,335.44 377.20,328.95 387.28,328.95 400.72,316.31 410.80,312.09" fill="none" stroke="#9a9a9a" stroke-width="0.9"/>
<polyline points="310.00,371.10 326.80,339.91 340.24,325.58 350.32,337.80 363.76,320.94 377.20,320.52 387.28,312.93 400.72,312.93 410.80,312.09" fill="none" stroke="#7c7c7c" stroke-width="0.9"/>
<line x1="363.76" y1="332.91" x2="363.76" y2="337.97" stroke="#9a9a9a" stroke-width="0.7"/>
<line x1="362.16" y1="332.91" x2="365.36" y2="332.91" stroke="#9a9a9a" stroke-width="0.7"/>
<line x1="362.16" y1="337.97" x2="365.36" y2="337.97" stroke="#9a9a9a" stroke-width="0.7"/>
<line x1="377.20" y1="324.74" x2="377.20" y2="333.17" stroke="#9a9a9a" stroke-width="0.7"/>
<line x1="375.60" y1="324.74" x2="378.80" y2="324.74" stroke="#9a9a9a" stroke-width="0.7"/>
<line x1="375.60" y1="333.17" x2="378.80" y2="333.17" stroke="#9a9a9a" stroke-width="0.7"/>
<line x1="387.28" y1="320.52" x2="387.28" y2="337.38" stroke="#9a9a9a" stroke-width="0.7"/>
<line x1="385.68" y1="320.52" x2="388.88" y2="320.52" stroke="#9a9a9a" stroke-width="0.7"/>
<line x1="385.68" y1="337.38" x2="388.88" y2="337.38" stroke="#9a9a9a" stroke-width="0.7"/>
<line x1="400.72" y1="313.78" x2="400.72" y2="318.83" stroke="#9a9a9a" stroke-width="0.7"/>
<line x1="399.12" y1="313.78" x2="402.32" y2="313.78" stroke="#9a9a9a" stroke-width="0.7"/>
<line x1="399.12" y1="318.83" x2="402.32" y2="318.83" stroke="#9a9a9a" stroke-width="0.7"/>
<line x1="340.24" y1="322.21" x2="340.24" y2="328.95" stroke="#7c7c7c" stroke-width="0.7"/>
<line x1="338.64" y1="322.21" x2="341.84" y2="322.21" stroke="#7c7c7c" stroke-width="0.7"/>
<line x1="338.64" y1="328.95" x2="341.84" y2="328.95" stroke="#7c7c7c" stroke-width="0.7"/>
<line x1="363.76" y1="318.41" x2="363.76" y2="323.47" stroke="#7c7c7c" stroke-width="0.7"/>
<line x1="362.16" y1="318.41" x2="365.36" y2="318.41" stroke="#7c7c7c" stroke-width="0.7"/>
<line x1="362.16" y1="323.47" x2="365.36" y2="323.47" stroke="#7c7c7c" stroke-width="0.7"/>
<circle cx="310.00" cy="371.10" r="1.9" fill="#9a9a9a"/>
<circle cx="326.80" cy="339.91" r="1.9" fill="#9a9a9a"/>
<circle cx="340.24" cy="336.54" r="1.9" fill="#9a9a9a"/>
<circle cx="350.32" cy="345.81" r="1.9" fill="#9a9a9a"/>
<circle cx="363.76" cy="335.44" r="1.9" fill="#9a9a9a"/>
<circle cx="377.20" cy="328.95" r="1.9" fill="#9a9a9a"/>
<circle cx="387.28" cy="328.95" r="1.9" fill="#9a9a9a"/>
<circle cx="400.72" cy="316.31" r="1.9" fill="#9a9a9a"/>
<circle cx="410.80" cy="312.09" r="1.9" fill="#9a9a9a"/>
<polygon points="310.00,368.90 312.00,372.70 308.00,372.70" fill="#7c7c7c"/>
<polygon points="326.80,337.71 328.80,341.51 324.80,341.51" fill="#7c7c7c"/>
<polygon points="340.24,323.38 342.24,327.18 338.24,327.18" fill="#7c7c7c"/>
<polygon points="350.32,335.60 352.32,339.40 348.32,339.40" fill="#7c7c7c"/>
<polygon points="363.76,318.74 365.76,322.54 361.76,322.54" fill="#7c7c7c"/>
<polygon points="377.20,318.32 379.20,322.12 375.20,322.12" fill="#7c7c7c"/>
<polygon points="387.28,310.73 389.28,314.53 385.28,314.53" fill="#7c7c7c"/>
<polygon points="400.72,310.73 402.72,314.53 398.72,314.53" fill="#7c7c7c"/>
<polygon points="410.80,309.89 412.80,313.69 408.80,313.69" fill="#7c7c7c"/>
<polyline points="310.00,371.10 326.80,342.02 340.24,334.85 350.32,342.44 363.76,349.18 377.20,347.50 387.28,339.91 400.72,343.62 410.80,343.62" fill="none" stroke="#111" stroke-width="1.0"/>
<line x1="340.24" y1="332.74" x2="340.24" y2="336.96" stroke="#000" stroke-width="0.7"/>
<line x1="338.64" y1="332.74" x2="341.84" y2="332.74" stroke="#000" stroke-width="0.7"/>
<line x1="338.64" y1="336.96" x2="341.84" y2="336.96" stroke="#000" stroke-width="0.7"/>
<line x1="350.32" y1="340.75" x2="350.32" y2="344.12" stroke="#000" stroke-width="0.7"/>
<line x1="348.72" y1="340.75" x2="351.92" y2="340.75" stroke="#000" stroke-width="0.7"/>
<line x1="348.72" y1="344.12" x2="351.92" y2="344.12" stroke="#000" stroke-width="0.7"/>
<line x1="377.20" y1="343.96" x2="377.20" y2="351.04" stroke="#000" stroke-width="0.7"/>
<line x1="375.60" y1="343.96" x2="378.80" y2="343.96" stroke="#000" stroke-width="0.7"/>
<line x1="375.60" y1="351.04" x2="378.80" y2="351.04" stroke="#000" stroke-width="0.7"/>
<line x1="387.28" y1="336.54" x2="387.28" y2="343.28" stroke="#000" stroke-width="0.7"/>
<line x1="385.68" y1="336.54" x2="388.88" y2="336.54" stroke="#000" stroke-width="0.7"/>
<line x1="385.68" y1="343.28" x2="388.88" y2="343.28" stroke="#000" stroke-width="0.7"/>
<line x1="400.72" y1="339.82" x2="400.72" y2="347.41" stroke="#000" stroke-width="0.7"/>
<line x1="399.12" y1="339.82" x2="402.32" y2="339.82" stroke="#000" stroke-width="0.7"/>
<line x1="399.12" y1="347.41" x2="402.32" y2="347.41" stroke="#000" stroke-width="0.7"/>
<line x1="410.80" y1="340.08" x2="410.80" y2="347.16" stroke="#000" stroke-width="0.7"/>
<line x1="409.20" y1="340.08" x2="412.40" y2="340.08" stroke="#000" stroke-width="0.7"/>
<line x1="409.20" y1="347.16" x2="412.40" y2="347.16" stroke="#000" stroke-width="0.7"/>
<polygon points="310.00,369.25 311.85,371.10 310.00,372.95 308.15,371.10" fill="#fff" stroke="#000" stroke-width="1.0"/>
<polygon points="326.80,340.17 328.65,342.02 326.80,343.87 324.95,342.02" fill="#fff" stroke="#000" stroke-width="1.0"/>
<polygon points="340.24,333.00 342.09,334.85 340.24,336.70 338.39,334.85" fill="#fff" stroke="#000" stroke-width="1.0"/>
<polygon points="350.32,340.59 352.17,342.44 350.32,344.29 348.47,342.44" fill="#fff" stroke="#000" stroke-width="1.0"/>
<polygon points="363.76,347.33 365.61,349.18 363.76,351.03 361.91,349.18" fill="#fff" stroke="#000" stroke-width="1.0"/>
<polygon points="377.20,345.65 379.05,347.50 377.20,349.35 375.35,347.50" fill="#fff" stroke="#000" stroke-width="1.0"/>
<polygon points="387.28,338.06 389.13,339.91 387.28,341.76 385.43,339.91" fill="#fff" stroke="#000" stroke-width="1.0"/>
<polygon points="400.72,341.77 402.57,343.62 400.72,345.47 398.87,343.62" fill="#fff" stroke="#000" stroke-width="1.0"/>
<polygon points="410.80,341.77 412.65,343.62 410.80,345.47 408.95,343.62" fill="#fff" stroke="#000" stroke-width="1.0"/>
<polyline points="310.00,371.10 326.80,342.02 340.24,348.76 350.32,361.49 363.76,362.08 377.20,365.03 387.28,361.49 400.72,354.49 410.80,350.87" fill="none" stroke="#666" stroke-width="0.8" stroke-dasharray="1.5,1.3"/>
<line x1="387.28" y1="359.38" x2="387.28" y2="363.60" stroke="#666" stroke-width="0.7"/>
<line x1="385.78" y1="359.38" x2="388.78" y2="359.38" stroke="#666" stroke-width="0.7"/>
<line x1="385.78" y1="363.60" x2="388.78" y2="363.60" stroke="#666" stroke-width="0.7"/>
<line x1="400.72" y1="351.54" x2="400.72" y2="357.44" stroke="#666" stroke-width="0.7"/>
<line x1="399.22" y1="351.54" x2="402.22" y2="351.54" stroke="#666" stroke-width="0.7"/>
<line x1="399.22" y1="357.44" x2="402.22" y2="357.44" stroke="#666" stroke-width="0.7"/>
<line x1="410.80" y1="348.34" x2="410.80" y2="353.40" stroke="#666" stroke-width="0.7"/>
<line x1="409.30" y1="348.34" x2="412.30" y2="348.34" stroke="#666" stroke-width="0.7"/>
<line x1="409.30" y1="353.40" x2="412.30" y2="353.40" stroke="#666" stroke-width="0.7"/>
<circle cx="310.00" cy="371.10" r="1.9" fill="#fff" stroke="#666" stroke-width="0.8"/>
<circle cx="326.80" cy="342.02" r="1.9" fill="#fff" stroke="#666" stroke-width="0.8"/>
<circle cx="340.24" cy="348.76" r="1.9" fill="#fff" stroke="#666" stroke-width="0.8"/>
<circle cx="350.32" cy="361.49" r="1.9" fill="#fff" stroke="#666" stroke-width="0.8"/>
<circle cx="363.76" cy="362.08" r="1.9" fill="#fff" stroke="#666" stroke-width="0.8"/>
<circle cx="377.20" cy="365.03" r="1.9" fill="#fff" stroke="#666" stroke-width="0.8"/>
<circle cx="387.28" cy="361.49" r="1.9" fill="#fff" stroke="#666" stroke-width="0.8"/>
<circle cx="400.72" cy="354.49" r="1.9" fill="#fff" stroke="#666" stroke-width="0.8"/>
<circle cx="410.80" cy="350.87" r="1.9" fill="#fff" stroke="#666" stroke-width="0.8"/>
<polyline points="310.00,371.10 326.80,365.37 340.24,364.02 350.32,371.10 363.76,371.10 377.20,370.68 387.28,369.16 400.72,365.87 410.80,366.89" fill="none" stroke="#000" stroke-width="1.0"/>
<rect x="308.00" y="369.10" width="4.00" height="4.00" fill="#000"/>
<rect x="324.80" y="363.37" width="4.00" height="4.00" fill="#000"/>
<rect x="338.24" y="362.02" width="4.00" height="4.00" fill="#000"/>
<rect x="348.32" y="369.10" width="4.00" height="4.00" fill="#000"/>
<rect x="361.76" y="369.10" width="4.00" height="4.00" fill="#000"/>
<rect x="375.20" y="368.68" width="4.00" height="4.00" fill="#000"/>
<rect x="385.28" y="367.16" width="4.00" height="4.00" fill="#000"/>
<rect x="398.72" y="363.87" width="4.00" height="4.00" fill="#000"/>
<rect x="408.80" y="364.89" width="4.00" height="4.00" fill="#000"/>
<circle cx="343.43" cy="350.80" r="0.95" fill="#111"/>
<circle cx="346.57" cy="350.80" r="0.95" fill="#111"/>
<circle cx="350.05" cy="356.90" r="0.95" fill="#111"/>
<circle cx="353.20" cy="356.90" r="0.95" fill="#111"/>
<circle cx="356.35" cy="356.90" r="0.95" fill="#111"/>
<circle cx="363.35" cy="356.90" r="0.95" fill="#111"/>
<circle cx="366.50" cy="356.90" r="0.95" fill="#111"/>
<circle cx="369.65" cy="356.90" r="0.95" fill="#111"/>
<circle cx="378.03" cy="359.20" r="0.95" fill="#111"/>
<circle cx="381.18" cy="359.20" r="0.95" fill="#111"/>
<circle cx="384.95" cy="356.90" r="0.95" fill="#111"/>
<circle cx="388.10" cy="356.90" r="0.95" fill="#111"/>
<circle cx="391.25" cy="356.90" r="0.95" fill="#111"/>
<line x1="419.60" y1="315.40" x2="427.70" y2="315.40" stroke="#000" stroke-width="1.0"/>
<rect x="421.60" y="313.40" width="4.00" height="4.00" fill="#000"/>
<text x="431.50" y="318.30" font-size="8.2" text-anchor="start" fill="#000">BM only</text>
<line x1="419.60" y1="324.10" x2="427.70" y2="324.10" stroke="#9a9a9a" stroke-width="1.0"/>
<circle cx="423.60" cy="324.10" r="1.9" fill="#9a9a9a"/>
<text x="431.50" y="327.00" font-size="8.2" text-anchor="start" fill="#000">dnRAR<tspan font-family="Liberation Serif" font-size="9.18">α</tspan></text>
<line x1="419.60" y1="332.90" x2="427.70" y2="332.90" stroke="#666" stroke-width="0.9" stroke-dasharray="1.2,1"/>
<circle cx="423.60" cy="332.90" r="1.9" fill="#fff" stroke="#666" stroke-width="0.85"/>
<text x="433.00" y="335.80" font-size="8.2" text-anchor="start" fill="#000"><tspan font-size="8.2">dnRAR<tspan font-family="Liberation Serif" font-size="9.18">α</tspan>CD4</tspan><tspan dy="-2.87" font-size="5.58">Cre</tspan></text>
<line x1="419.60" y1="341.50" x2="427.70" y2="341.50" stroke="#7c7c7c" stroke-width="1.0"/>
<polygon points="423.60,339.30 425.60,343.10 421.60,343.10" fill="#7c7c7c"/>
<text x="431.50" y="344.40" font-size="8.2" text-anchor="start" fill="#000"><tspan font-size="8.2">CD25</tspan><tspan dy="-2.87" font-size="5.58">-</tspan><tspan dy="2.87" font-size="8.2">dnRARα</tspan></text>
<line x1="419.60" y1="350.40" x2="427.70" y2="350.40" stroke="#000" stroke-width="1.0"/>
<polygon points="423.60,348.20 425.80,350.40 423.60,352.60 421.40,350.40" fill="#fff" stroke="#000" stroke-width="1.0"/>
<text x="431.50" y="353.30" font-size="8.2" text-anchor="start" fill="#000"><tspan font-size="8.2">CD25</tspan><tspan dy="-2.87" font-size="5.58">-</tspan><tspan dy="2.87" font-size="8.2">dnRAR<tspan font-family="Liberation Serif" font-size="9.18">α</tspan>CD4</tspan><tspan dy="-2.87" font-size="5.58">Cre</tspan></text></svg></body></html>
